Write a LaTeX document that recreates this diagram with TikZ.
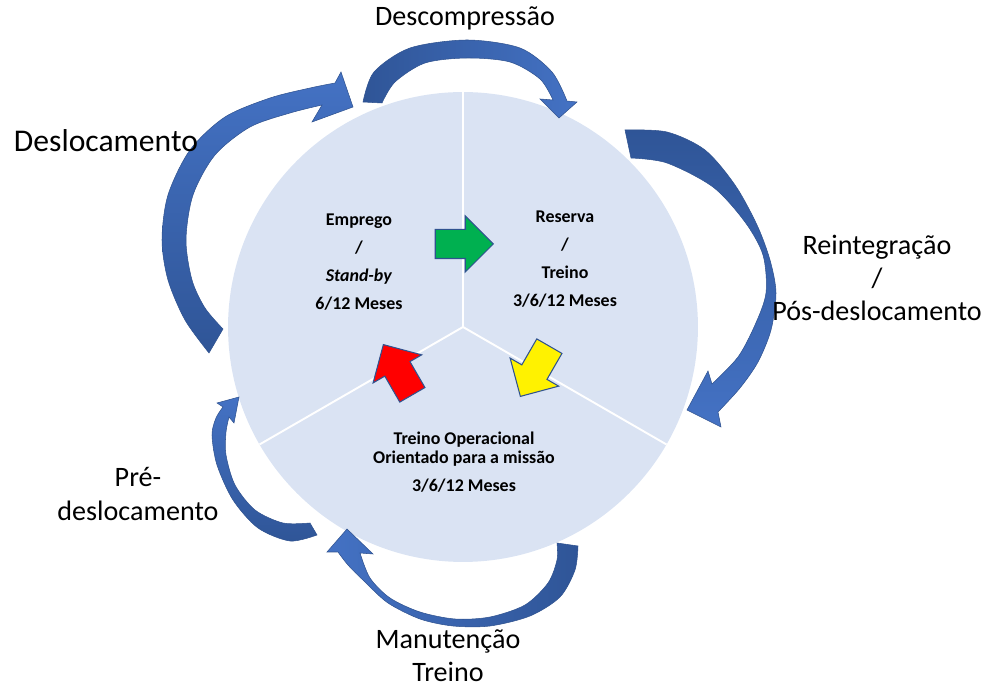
\documentclass[tikz,border=0pt]{standalone}
\usepackage{fontspec}
\setmainfont{Carlito}
\usepackage{tikz}
\usetikzlibrary{shapes.arrows}
\definecolor{circlefill}{HTML}{DAE3F3}
\definecolor{arrowdark}{HTML}{2F5597}
\definecolor{arrowlight}{HTML}{4472C4}
\definecolor{arrowline}{HTML}{2F528F}
\definecolor{okgreen}{HTML}{00B050}
\begin{document}
\begin{tikzpicture}
[%%%%%%%%%%%%%%%%%%%%%%%%%%%%%%
x=0.02cm,y=-0.02cm,
sidelabel/.style={font=\fontsize{16}{18.8}\selectfont, align=center, inner sep=0pt},
sectorlabel/.style={font=\fontsize{10.2}{16}\selectfont\bfseries, align=center, inner sep=0pt},
blockarrow/.style={single arrow, draw=arrowline, line width=0.6pt, minimum height=1.16cm, inner xsep=0pt, inner ysep=0.28cm, single arrow head extend=0.27cm},
bentarrow/.style={draw=arrowline, line width=0.3pt},
]%%%%%%%%%%%%%%%%%%%%%%%%%%%%%%
\useasboundingbox (0,0) rectangle (985,688);

\coordinate (c) at (463,327);
\coordinate (ctop) at (463,92);
\coordinate (cleft) at (259.5,444.5);
\coordinate (cright) at (666.5,444.5);

\fill[circlefill] (c) circle (4.7cm);
\foreach \p in {ctop,cleft,cright}
\draw[white,line width=1.1pt] (c) -- (\p);

% top: Descompressao
\shade[bentarrow,left color=arrowdark,right color=arrowlight]
 plot[smooth] coordinates {(363,102) (374,72) (410,48) (467,40) (520,48) (552,72) (567,101)}
 -- (577,102) -- (559,118) -- (540,99)
 -- plot[smooth] coordinates {(553,100) (540,79) (510,62) (467,58) (425,63) (395,82) (382,103)}
 -- cycle;

% right: Reintegracao
\shade[bentarrow,top color=arrowdark,bottom color=arrowlight]
 plot[smooth] coordinates {(625,130) (667,132) (705,150) (735,185) (757,225) (770,260) (776,293) (771,330) (758,362) (740,388) (718,412)}
 -- (721,427) -- (687,410) -- (708,371)
 -- plot[smooth] coordinates {(712,384) (738,357) (755,325) (766,293) (763,255) (745,222) (713,187) (667,163) (631,158)}
 -- cycle;

% left: Deslocamento
\shade[bentarrow,top color=arrowlight,bottom color=arrowdark]
 plot[smooth] coordinates {(209,353) (185,320) (168,280) (162,240) (168,195) (190,150) (225,117) (270,98) (310,88) (335,83)}
 -- (341,72) -- (353,107) -- (312,122)
 -- plot[smooth] coordinates {(322,105) (290,113) (250,127) (215,155) (193,195) (186,240) (192,280) (205,308) (223,329)}
 -- cycle;

% small: Pre-deslocamento
\shade[bentarrow,top color=arrowlight,bottom color=arrowdark]
 plot[smooth] coordinates {(317,535) (290,541) (258,528) (233,500) (217,465) (212,435) (216,418) (223,407)}
 -- (217,403) -- (239,397) -- (234,423)
 -- plot[smooth] coordinates {(229,417) (226,432) (226,455) (235,485) (255,510) (283,523) (310,523)}
 -- cycle;

% bottom: Manutencao
\shade[bentarrow,left color=arrowlight,right color=arrowdark]
 plot[smooth] coordinates {(578,546) (575,570) (560,597) (530,616) (490,626) (453,626) (420,619) (388,603) (365,582) (348,565) (338,552)}
 -- (327,552) -- (347,529) -- (373,554)
 -- plot[smooth] coordinates {(360,553) (370,578) (390,598) (420,612) (455,619) (490,617) (525,605) (548,583) (557,560) (557,543)}
 -- cycle;

\node[sectorlabel] (emp) at (359,262) {Emprego\\/\\\textit{Stand-by}\\6/12 Meses};
\node[sectorlabel] (res) at (565,259) {Reserva\\/\\Treino\\3/6/12 Meses};
\node[sectorlabel] (treino) at (464,462) {Treino Operacional\\[-5pt]Orientado para a miss\~ao\\3/6/12 Meses};

\node[blockarrow,fill=okgreen] (goem) at (457,244) {};
\node[blockarrow,fill=yellow,rotate=240] (gores) at (538.5,365) {};
\node[blockarrow,fill=red,rotate=120] (gotreino) at (401.5,376) {};

\node[sidelabel] (desc) at (465,18) {Descompress\~ao};
\node[sidelabel,font=\fontsize{18}{18.8}\selectfont] (desl) at (106,141) {Deslocamento};
\node[sidelabel] (reint) at (877,278) {Reintegra\c{c}\~ao\\/\\P\'os-deslocamento};
\node[sidelabel] (pre) at (138,494) {Pr\'e-\\deslocamento};
\node[sidelabel] (manut) at (448,656) {Manuten\c{c}\~ao\\Treino};
\end{tikzpicture}
\end{document}
